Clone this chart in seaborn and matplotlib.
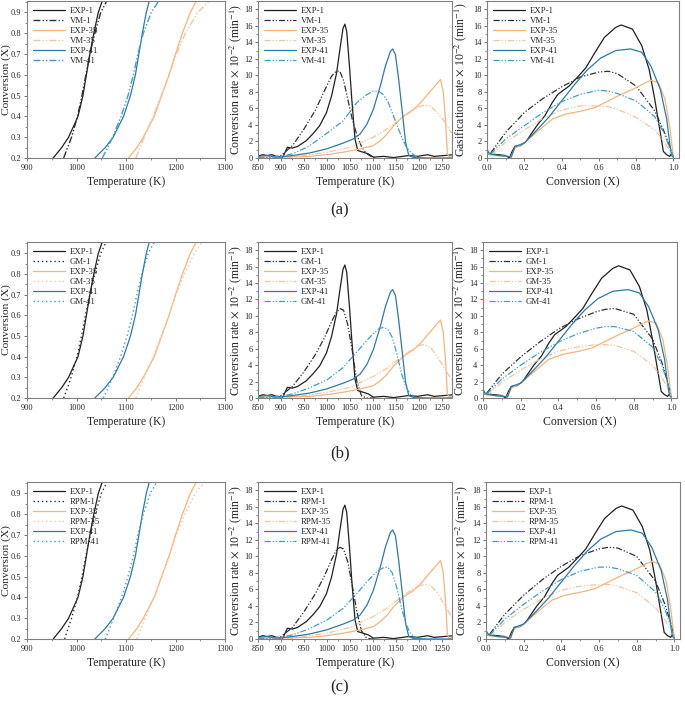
import numpy as np
import matplotlib
matplotlib.use("Agg")
import matplotlib.pyplot as plt
from matplotlib.ticker import MultipleLocator, AutoMinorLocator
import seaborn as sns

# ---------------- data ----------------
# left column: temperature (K) reached at given conversion levels
X_LEVELS = [0.2, 0.25, 0.3, 0.4, 0.5, 0.6, 0.7, 0.8, 0.9, 0.955]
T_EXP1 = [953, 970, 984, 1003, 1013, 1020, 1027, 1035, 1044, 1052]
T_EXP35 = [1105, 1122, 1135, 1157, 1172, 1187, 1200, 1214, 1230, 1242]
T_EXP41 = [1037, 1058, 1074, 1095, 1109, 1119, 1126, 1133, 1141, 1147]
T_VM1 = [974, 982, 990, 1002, 1011, 1019, 1027, 1037, 1049, 1061]
T_VM35 = [1120, 1128, 1137, 1155, 1171, 1187, 1202, 1220, 1245, 1268]
T_VM41 = [1052, 1063, 1073, 1090, 1104, 1115, 1124, 1135, 1151, 1166]
T_GM1 = [974, 982, 989, 1001, 1010, 1018, 1027, 1037, 1049, 1060]
T_GM35 = [1120, 1128, 1137, 1155, 1171, 1187, 1201, 1218, 1238, 1254]
T_GM41 = [1054, 1064, 1073, 1089, 1102, 1113, 1122, 1132, 1145, 1157]
T_RPM1 = [976, 983, 990, 1002, 1011, 1019, 1028, 1038, 1050, 1062]
T_RPM35 = [1122, 1130, 1139, 1156, 1172, 1188, 1202, 1219, 1240, 1258]
T_RPM41 = [1058, 1067, 1075, 1091, 1104, 1115, 1124, 1135, 1149, 1162]

# middle column: conversion rate (x10^-2 min^-1) vs temperature, experiments
MID_T_EXP1 = [850, 860, 870, 880, 890, 897, 903, 914, 925, 936, 955, 969, 984, 999, 1010,
              1021, 1028, 1035, 1039, 1043, 1049, 1054, 1061, 1067, 1079, 1090, 1101,
              1123, 1145, 1178, 1197, 1219, 1233, 1255, 1275]
MID_R_EXP1 = [0.2, 0.4, 0.3, 0.4, 0.2, 0.1, 0.0, 1.3, 1.2, 1.4, 2.1, 2.9, 3.9, 5.5, 7.5,
              10.3, 13.1, 15.7, 16.2, 15.3, 11.1, 7.1, 2.3, 0.9, 0.7, 0.5, 0.1,
              0.2, 0.05, 0.3, 0.2, 0.4, 0.2, 0.3, 0.4]
MID_T_EXP35 = [850, 900, 962, 999, 1035, 1072, 1101, 1116, 1131, 1145, 1167, 1189, 1204,
               1219, 1233, 1247, 1253, 1258, 1262, 1266, 1275]
MID_R_EXP35 = [0.1, 0.15, 0.2, 0.4, 0.7, 1.1, 1.5, 2.1, 2.9, 3.9, 5.1, 5.9, 6.7,
               7.7, 8.6, 9.5, 8.0, 4.5, 0.5, 0.1, 0.2]
MID_T_EXP41 = [850, 870, 889, 925, 962, 999, 1035, 1057, 1072, 1087, 1101, 1116, 1127,
               1138, 1143, 1149, 1156, 1164, 1171, 1178, 1189, 1220, 1275]
MID_R_EXP41 = [0.2, 0.3, 0.1, 0.3, 0.6, 1.1, 1.8, 2.3, 2.9, 4.1, 5.9, 8.7, 11.1,
               12.9, 13.2, 12.5, 9.5, 5.5, 1.9, 0.3, 0.05, 0.0, 0.0]

# middle column, models
MID_T1 = [850, 880, 900, 925, 950, 975, 995, 1010, 1020, 1028, 1036, 1045, 1055, 1065,
          1075, 1085, 1095, 1105]
MID_VM1 = [0, 0.05, 0.3, 1.5, 3.5, 5.8, 8.2, 9.9, 10.5, 10.5, 9.4, 7.2, 4.7, 2.8,
           1.4, 0.6, 0.2, 0]
MID_GM1 = [0, 0.05, 0.3, 1.4, 3.2, 5.3, 7.4, 9.3, 10.4, 10.9, 10.7, 9.0, 5.8, 2.0,
           0.3, 0, 0, 0]
MID_RPM1 = [0, 0.05, 0.3, 1.4, 3.3, 5.5, 7.7, 9.6, 10.7, 11.1, 10.9, 9.4, 6.5, 3.3,
            1.0, 0.2, 0, 0]
MID_T41 = [850, 900, 925, 960, 1000, 1035, 1065, 1085, 1100, 1112, 1122, 1132, 1142,
           1152, 1162, 1172, 1182, 1195, 1205]
MID_VM41 = [0, 0.2, 0.5, 1.4, 3.0, 4.5, 6.7, 7.6, 8.1, 8.1, 7.7, 6.9, 5.5,
            4.0, 2.6, 1.4, 0.7, 0.1, 0]
MID_GM41 = [0, 0.2, 0.5, 1.2, 2.2, 3.7, 5.6, 6.9, 7.8, 8.4, 8.6, 8.4, 7.4,
            5.4, 3.0, 1.3, 0.4, 0, 0]
MID_RPM41 = [0, 0.2, 0.5, 1.2, 2.3, 3.7, 5.5, 6.8, 7.7, 8.3, 8.6, 8.7, 8.0,
             6.2, 3.8, 1.8, 0.6, 0.1, 0]
MID_T35 = [850, 925, 1000, 1050, 1100, 1130, 1160, 1185, 1200, 1212, 1225, 1240, 1255,
           1270, 1285]
MID_VM35 = [0, 0.1, 0.7, 1.3, 2.5, 3.5, 4.7, 5.7, 6.2, 6.4, 6.3, 5.5, 4.5, 3.1, 2.3]
MID_GM35 = [0, 0.1, 0.7, 1.3, 2.6, 3.6, 4.9, 5.9, 6.4, 6.5, 6.2, 5.0, 3.7, 2.3, 1.4]
MID_RPM35 = [0, 0.1, 0.7, 1.4, 2.7, 3.7, 5.0, 6.0, 6.4, 6.6, 6.5, 5.6, 4.2, 2.8, 1.8]

# right column: rate vs conversion, experiments
R_X_EXP1 = [0.0, 0.005, 0.02, 0.06, 0.10, 0.12, 0.135, 0.15, 0.18, 0.21, 0.24, 0.27, 0.31,
            0.35, 0.38, 0.44, 0.49, 0.53, 0.58, 0.63, 0.69, 0.72, 0.78, 0.83, 0.87, 0.90,
            0.93, 0.946, 0.964, 0.98, 0.99, 1.0]
R_R_EXP1 = [1.2, 0.5, 0.5, 0.4, 0.3, 0.0, 0.8, 1.4, 1.5, 2.0, 3.0, 4.0, 5.1,
            6.7, 7.7, 8.7, 9.9, 10.9, 12.8, 14.6, 15.8, 16.1, 15.6, 13.6, 10.7, 7.1,
            3.0, 0.8, 0.4, 0.2, 0.5, 0.2]
R_X_EXP35 = [0.0, 0.015, 0.06, 0.11, 0.13, 0.15, 0.20, 0.27, 0.35, 0.42, 0.51, 0.58, 0.65,
             0.72, 0.79, 0.85, 0.88, 0.92, 0.955, 0.98, 0.995, 1.0]
R_R_EXP35 = [0.8, 0.4, 0.3, 0.2, 0.2, 1.2, 1.8, 3.2, 4.7, 5.3, 5.7, 6.1, 6.9,
             7.7, 8.4, 9.1, 9.4, 9.1, 7.1, 3.8, 1.0, 0.0]
R_X_EXP41 = [0.0, 0.015, 0.06, 0.11, 0.13, 0.15, 0.20, 0.26, 0.33, 0.40, 0.47, 0.54, 0.61,
             0.69, 0.77, 0.83, 0.88, 0.93, 0.964, 0.98, 0.99, 1.0]
R_R_EXP41 = [1.0, 0.5, 0.3, 0.2, 0.1, 1.4, 1.8, 3.2, 4.9, 6.9, 8.9, 10.7, 12.1,
             13.0, 13.2, 12.8, 11.1, 8.3, 4.7, 1.8, 0.3, 0.1]

# right column, models
R_X_MOD = [0.02, 0.1, 0.2, 0.3, 0.4, 0.5, 0.6, 0.65, 0.7, 0.8, 0.9, 0.95, 0.98, 1.0]
R_VM1 = [0.6, 3.1, 5.5, 7.2, 8.6, 9.8, 10.4, 10.5, 10.2, 8.7, 5.7, 3.2, 1.4, 0.2]
R_VM35 = [0.3, 1.9, 3.4, 4.8, 5.8, 6.3, 6.3, 6.2, 5.9, 4.9, 3.4, 2.0, 0.9, 0.2]
R_VM41 = [0.5, 2.3, 3.9, 5.5, 6.8, 7.7, 8.2, 8.1, 7.8, 6.9, 5.0, 3.0, 1.2, 0.2]
R_GM1 = [0.6, 2.9, 5.0, 6.8, 8.4, 9.6, 10.5, 10.8, 10.9, 10.2, 7.2, 4.3, 2.0, 0.2]
R_GM35 = [0.3, 1.9, 3.4, 4.7, 5.7, 6.2, 6.5, 6.5, 6.4, 5.7, 4.0, 2.5, 1.2, 0.2]
R_GM41 = [0.5, 2.3, 4.0, 5.5, 6.8, 7.8, 8.5, 8.7, 8.7, 8.1, 6.2, 4.0, 1.8, 0.2]
R_RPM1 = [0.6, 3.0, 5.3, 7.2, 8.8, 10.1, 10.9, 11.1, 11.0, 10.0, 7.0, 4.2, 2.0, 0.2]
R_RPM35 = [0.3, 2.0, 3.6, 4.9, 5.9, 6.4, 6.6, 6.6, 6.4, 5.6, 3.8, 2.3, 1.1, 0.2]
R_RPM41 = [0.5, 2.4, 4.2, 5.8, 7.2, 8.2, 8.7, 8.7, 8.5, 7.7, 5.7, 3.6, 1.6, 0.2]

MODELS = ["VM", "GM", "RPM"]
CAPTIONS = ["(a)", "(b)", "(c)"]

# ---------------- style ----------------
sns.set_theme(style="ticks")
plt.rcParams["font.family"] = ["Liberation Serif", "DejaVu Serif"]
plt.rcParams["mathtext.fontset"] = "stix"

C_EXP = {"1": "#202020", "35": "#f5b57a", "41": "#2a7bab"}
C_MOD = {"1": "#303030", "35": "#f8c49c", "41": "#3c9ecb"}
DASHDOT = (0, (5, 1.5, 1, 1.5, 1, 1.5))
DOTTED = (0, (1, 2))

W, H = 685, 706
fig = plt.figure(figsize=(W / 100, H / 100), dpi=100)


def px_axes(x0, x1, top, bottom):
    return fig.add_axes([x0 / W, 1 - bottom / H, (x1 - x0) / W, (bottom - top) / H])


def style_ax(ax):
    for s in ax.spines.values():
        s.set_color("#808080")
        s.set_linewidth(0.8)
    ax.tick_params(which="major", length=2.5, width=0.6, color="#606060",
                   labelsize=6, pad=1.5)
    ax.tick_params(which="minor", length=1.5, width=0.5, color="#606060")
    ax.xaxis.set_minor_locator(AutoMinorLocator(2))
    ax.yaxis.set_minor_locator(AutoMinorLocator(2))


def draw(ax, x, y, color, ls, label, lw=0.9):
    sns.lineplot(x=x, y=y, ax=ax, color=color, linestyle=ls, lw=lw,
                 sort=False, estimator=None, label=label)


def legend(ax):
    ax.legend(loc="upper left", frameon=False, fontsize=6.3, handlelength=3.6,
              labelspacing=0.2, borderaxespad=0.3, handletextpad=0.6)


rows_px = [(1, 158), (242, 398), (482, 639)]
right_x = [(487, 679), (483, 677), (486, 680)]
right_lab = [469, 468, 470]   # pixel x of right edge of the right-column ylabel
cap_y = [210, 453, 687]

left_T = {"VM": (T_VM1, T_VM35, T_VM41), "GM": (T_GM1, T_GM35, T_GM41),
          "RPM": (T_RPM1, T_RPM35, T_RPM41)}
mid_R = {"VM": (MID_VM1, MID_VM35, MID_VM41), "GM": (MID_GM1, MID_GM35, MID_GM41),
         "RPM": (MID_RPM1, MID_RPM35, MID_RPM41)}
right_R = {"VM": (R_VM1, R_VM35, R_VM41), "GM": (R_GM1, R_GM35, R_GM41),
           "RPM": (R_RPM1, R_RPM35, R_RPM41)}

rate_label = r"Conversion rate $\times$ 10$^{-2}$ (min$^{-1}$)"
LAB = 8.5

for i, m in enumerate(MODELS):
    top, bot = rows_px[i]
    h = bot - top
    left_ls = DASHDOT if m == "VM" else DOTTED

    # ---- left: conversion vs temperature
    ax = px_axes(27, 225, top, bot)
    t1, t35, t41 = left_T[m]
    draw(ax, T_EXP1, X_LEVELS, C_EXP["1"], "-", "EXP-1")
    draw(ax, t1, X_LEVELS, C_MOD["1"], left_ls, f"{m}-1", lw=1.0)
    draw(ax, T_EXP35, X_LEVELS, C_EXP["35"], "-", "EXP-35")
    draw(ax, t35, X_LEVELS, C_MOD["35"], left_ls, f"{m}-35", lw=1.0)
    draw(ax, T_EXP41, X_LEVELS, C_EXP["41"], "-", "EXP-41")
    draw(ax, t41, X_LEVELS, C_MOD["41"], left_ls, f"{m}-41", lw=1.0)
    ax.set_xlim(900, 1300)
    ax.set_ylim(0.2, 0.955)
    ax.xaxis.set_major_locator(MultipleLocator(100))
    ax.yaxis.set_major_locator(MultipleLocator(0.1))
    style_ax(ax)
    ax.set_xlabel("Temperature (K)", fontsize=LAB)
    ax.set_ylabel("Conversion (X)", fontsize=8.2)
    ax.xaxis.set_label_coords(0.5, -18 / h)
    ax.yaxis.set_label_coords(-15.5 / 198, 0.5)
    legend(ax)

    # ---- middle: rate vs temperature
    ax = px_axes(258, 452, top, bot)
    r1, r35, r41 = mid_R[m]
    draw(ax, MID_T_EXP1, MID_R_EXP1, C_EXP["1"], "-", "EXP-1")
    draw(ax, MID_T1, r1, C_MOD["1"], DASHDOT, f"{m}-1")
    draw(ax, MID_T_EXP35, MID_R_EXP35, C_EXP["35"], "-", "EXP-35")
    draw(ax, MID_T35, r35, C_MOD["35"], DASHDOT, f"{m}-35")
    draw(ax, MID_T_EXP41, MID_R_EXP41, C_EXP["41"], "-", "EXP-41")
    draw(ax, MID_T41, r41, C_MOD["41"], DASHDOT, f"{m}-41")
    ax.set_xlim(850, 1272)
    ax.set_ylim(0, 19)
    ax.xaxis.set_major_locator(MultipleLocator(50))
    ax.yaxis.set_major_locator(MultipleLocator(2))
    style_ax(ax)
    ax.set_xlabel("Temperature (K)", fontsize=LAB)
    ax.set_ylabel(rate_label, fontsize=LAB)
    ax.xaxis.set_label_coords(0.5, -18 / h)
    ax.yaxis.set_label_coords(-14 / 194, 0.5)
    legend(ax)

    # ---- right: rate vs conversion
    x0, x1 = right_x[i]
    ax = px_axes(x0, x1, top, bot)
    r1, r35, r41 = right_R[m]
    draw(ax, R_X_EXP1, R_R_EXP1, C_EXP["1"], "-", "EXP-1")
    draw(ax, R_X_MOD, r1, C_MOD["1"], DASHDOT, f"{m}-1")
    draw(ax, R_X_EXP35, R_R_EXP35, C_EXP["35"], "-", "EXP-35")
    draw(ax, R_X_MOD, r35, C_MOD["35"], DASHDOT, f"{m}-35")
    draw(ax, R_X_EXP41, R_R_EXP41, C_EXP["41"], "-", "EXP-41")
    draw(ax, R_X_MOD, r41, C_MOD["41"], DASHDOT, f"{m}-41")
    ax.set_xlim(0, 1.03)
    ax.set_ylim(0, 19)
    ax.xaxis.set_major_locator(MultipleLocator(0.2))
    ax.yaxis.set_major_locator(MultipleLocator(2))
    style_ax(ax)
    ax.set_xlabel("Conversion (X)", fontsize=LAB)
    ylab = (r"Gasification rate $\times$ 10$^{-2}$ (min$^{-1}$)" if m == "VM"
            else rate_label)
    ax.set_ylabel(ylab, fontsize=LAB)
    ax.xaxis.set_label_coords(0.5, -18 / h)
    ax.yaxis.set_label_coords((right_lab[i] - x0) / (x1 - x0), 0.5)
    legend(ax)

    fig.text(340 / W, 1 - cap_y[i] / H, CAPTIONS[i], ha="center", va="center",
             fontsize=12)

fig.savefig("out.png", dpi=100, facecolor="white")
